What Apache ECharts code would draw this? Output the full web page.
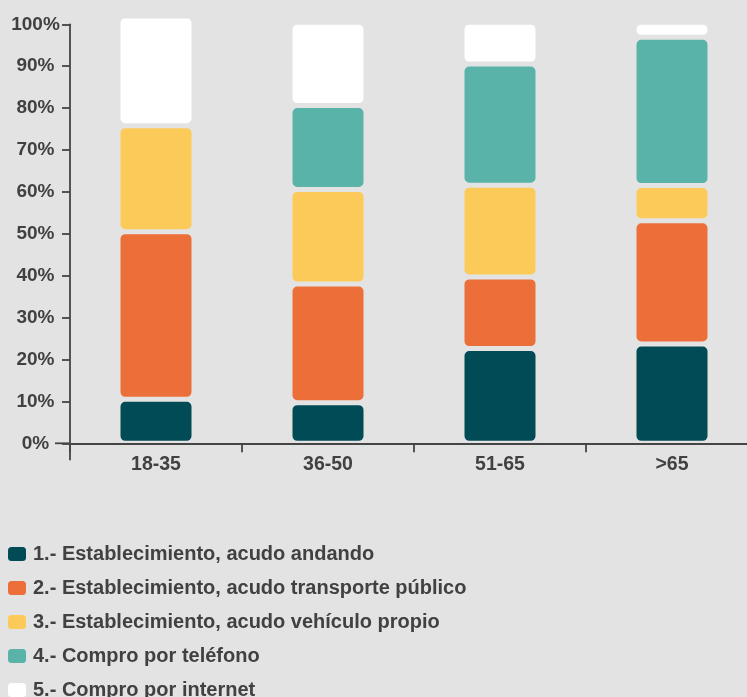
<!DOCTYPE html>
<html>
<head>
<meta charset="utf-8">
<script src="https://cdn.jsdelivr.net/npm/echarts@6/dist/echarts.min.js"></script>
<style>
  html, body { margin: 0; padding: 0; background: #e2e3e2; }
  #chart { width: 747px; height: 697px; }
</style>
</head>
<body>
<div id="chart"></div>
<script>
const categories = ['18-35', '36-50', '51-65', '>65']
const yTicks = [0, 10, 20, 30, 40, 50, 60, 70, 80, 90, 100]

const andando = [10.5, 9.7, 22.6, 23.7]
const transporte = [40, 28.3, 17.1, 29.4]
const vehiculo = [25.3, 22.6, 21.9, 8.4]
const telefono = [0, 20, 28.9, 35.4]
const internet = [26.2, 19.9, 10, 3.6]

const seriesNames = [
    '1.- Establecimiento, acudo andando',
    '2.- Establecimiento, acudo transporte público',
    '3.- Establecimiento, acudo vehículo propio',
    '4.- Compro por teléfono',
    '5.- Compro por internet'
]
const seriesData = [andando, transporte, vehiculo, telefono, internet]
const colors = ['#004b55', '#ec6e39', '#fcca59', '#59b3a9', '#ffffff']

const BG = '#e2e3e2'
const INK = '#414141'
const FONT = "'Liberation Sans', Arial, Helvetica, sans-serif"

const chart = echarts.init(document.getElementById('chart'))

chart.setOption({
    backgroundColor: BG,
    animation: false,
    grid: { left: 70, top: 24.3, width: 688, height: 419, outerBoundsMode: 'none', containLabel: false },
    legend: {
        orient: 'vertical',
        left: 3,
        top: 539,
        height: 300,
        itemWidth: 18,
        itemHeight: 14,
        itemGap: 14,
        icon: 'roundRect',
        selectedMode: false,
        itemStyle: { borderWidth: 0 },
        textStyle: { color: INK, fontSize: 20, fontWeight: 'bold', fontFamily: FONT, lineHeight: 20, padding: [0, 0, 0, 2] },
        data: seriesNames
    },
    xAxis: {
        type: 'category',
        data: categories,
        z: 10,
        axisLine: { lineStyle: { color: '#454545', width: 1.8 } },
        axisTick: { show: true, length: 9, lineStyle: { color: '#454545', width: 1.8 } },
        axisLabel: { color: INK, fontSize: 19.5, fontWeight: 'bold', fontFamily: FONT, margin: 11 }
    },
    yAxis: {
        type: 'value',
        min: yTicks[0],
        max: yTicks[yTicks.length - 1],
        interval: 10,
        z: 10,
        axisLine: { show: true, lineStyle: { color: '#454545', width: 1.8 } },
        axisTick: { show: true, length: 8, lineStyle: { color: '#454545', width: 1.8 } },
        axisLabel: {
            color: INK, fontSize: 19, fontWeight: 'bold', fontFamily: FONT,
            align: 'center', margin: 34.5,
            formatter: v => v + '%'
        },
        splitLine: { show: false }
    },
    series: seriesData.map((d, i) => ({
        name: seriesNames[i],
        type: 'bar',
        stack: 'total',
        barWidth: 76,
        clip: false,
        itemStyle: { color: colors[i], borderColor: BG, borderWidth: 2.5, borderRadius: 6 },
        data: d
    }))
})

// axis line overhangs: x axis runs a little left of the y axis, y axis a little below the x axis
const y0 = chart.convertToPixel({ yAxisIndex: 0 }, 0)
const x0 = 70
chart.setOption({
    graphic: [
        { type: 'line', z: 20, shape: { x1: x0 - 15, y1: y0, x2: x0, y2: y0 }, style: { stroke: '#454545', lineWidth: 1.8 } },
        { type: 'line', z: 20, shape: { x1: x0, y1: y0, x2: x0, y2: y0 + 17 }, style: { stroke: '#454545', lineWidth: 1.8 } }
    ]
})
</script>
</body>
</html>
